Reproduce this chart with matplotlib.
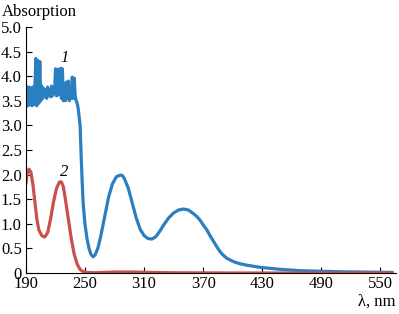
import matplotlib
matplotlib.use("Agg")
from matplotlib import pyplot as plt

# curve 1 (blue), noisy part at 1 nm step then smooth part
wl_1 = list(range(190, 244)) + [245, 246, 247, 248, 249, 250, 252, 254, 256, 258, 260,
                                263, 266, 270, 274, 278, 282, 286, 288, 290, 294, 298,
                                302, 306, 310, 314, 318, 322, 326, 330, 335, 340, 345,
                                350, 355, 360, 364, 367, 370, 374, 377, 381, 384, 387,
                                390, 394, 401, 407, 414, 428, 448, 469, 490, 510, 530,
                                550, 562]
abs_1 = [3.4, 3.78, 3.4, 3.78, 3.42, 3.76, 3.4, 3.78, 3.42, 3.75,
         4.36, 3.4, 4.32, 3.45, 4.3, 3.5, 3.8, 3.55, 3.75, 3.6,
         3.72, 3.55, 3.78, 3.62, 3.72, 3.58, 3.8, 3.6, 3.7, 3.65,
         4.15, 3.6, 4.14, 3.62, 3.75, 4.16, 3.55, 4.15, 3.5, 3.85,
         3.5, 3.88, 3.55, 3.9, 3.5, 3.65, 3.55, 3.98, 3.55, 3.96,
         3.6, 3.5, 3.45, 3.35,
         3.0, 2.4, 1.9, 1.45, 1.2, 0.98, 0.7, 0.5, 0.38, 0.33, 0.36,
         0.5, 0.75, 1.15, 1.55, 1.82, 1.96, 1.99, 1.98, 1.92, 1.72, 1.42,
         1.12, 0.89, 0.76, 0.70, 0.69, 0.74, 0.85, 0.98, 1.12, 1.22, 1.28,
         1.30, 1.28, 1.21, 1.14, 1.07, 0.98, 0.87, 0.76, 0.63, 0.53, 0.44,
         0.37, 0.30, 0.23, 0.19, 0.16, 0.115, 0.075, 0.047, 0.035, 0.025, 0.02,
         0.015, 0.012]

# curve 2 (red)
wl_2 = [190, 191, 193, 195, 197, 199, 201, 203, 206, 209, 212, 215, 218, 221,
        224, 226, 228, 230, 233, 236, 239, 242, 245, 248, 252, 260, 280, 300,
        320, 340, 400, 562]
abs_2 = [1.83, 2.0, 2.11, 2.05, 1.8, 1.45, 1.1, 0.88, 0.76, 0.73, 0.82, 1.1,
         1.45, 1.72, 1.85, 1.85, 1.75, 1.5, 1.1, 0.7, 0.38, 0.18, 0.07, 0.03,
         0.01, 0.005, 0.02, 0.02, 0.01, 0.005, 0.0, 0.0]

x_ticks = [190, 250, 310, 370, 430, 490, 550]
y_ticks = [0, 0.5, 1.0, 1.5, 2.0, 2.5, 3.0, 3.5, 4.0, 4.5, 5.0]
y_labels = ["0", "0.5", "1.0", "1.5", "2.0", "2.5", "3.0", "3.5", "4.0", "4.5", "5.0"]

plt.rcParams['font.family'] = ['Liberation Serif', 'DejaVu Serif']

fig = plt.figure(figsize=(3.99, 3.14), dpi=100)
ax = fig.add_axes([26 / 399, 41 / 314, 370 / 399, 246 / 314])

ax.plot(wl_1, abs_1, color='#2a7fc1', lw=2.3, solid_joinstyle='round')
ax.plot(wl_2, abs_2, color='#c9504f', lw=2.3, solid_joinstyle='round')

ax.set_xlim(190, 566)
ax.set_ylim(0, 5.0)
ax.set_xticks(x_ticks)
ax.set_yticks(y_ticks)
ax.set_yticklabels(y_labels)
ax.tick_params(direction='in', length=4, width=0.8, labelsize=12)
ax.tick_params(axis='x', pad=2)
ax.tick_params(axis='y', pad=3)
ax.spines['top'].set_visible(False)
ax.spines['right'].set_visible(False)
ax.spines['left'].set_linewidth(0.8)
ax.spines['bottom'].set_linewidth(0.8)

ax.text(229, 4.37, "1", style='italic', fontsize=12, ha='center', va='center')
ax.text(229, 2.05, "2", style='italic', fontsize=12, ha='center', va='center')

fig.text(2 / 399, 1 - 12 / 314, "Absorption", fontsize=12, ha='left', va='center')
fig.text(396 / 399, 1 - 302 / 314, "λ, nm", fontsize=12, ha='right', va='center')

fig.savefig("out.png", dpi=100)
